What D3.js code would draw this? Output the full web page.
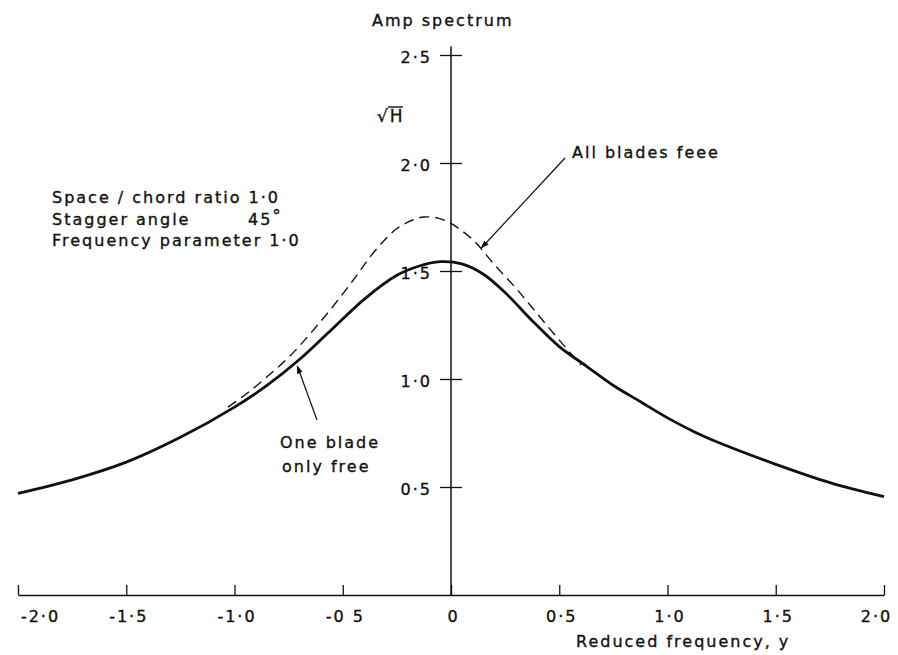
<!DOCTYPE html>
<html>
<head>
<meta charset="utf-8">
<script src="https://cdn.jsdelivr.net/npm/d3@7"></script>
<style>
    body { margin: 0; background: #fff; }
    svg { display: block; }
    text { font-family: "DejaVu Sans", sans-serif; fill: #111; stroke: #111; stroke-width: 0.35px; }
</style>
</head>
<body>
<svg width="898" height="655"></svg>
<script>
// values
var freq = [-2.0, -1.75, -1.5, -1.25, -1.0, -0.85, -0.7, -0.55, -0.4, -0.25, -0.15, -0.05, 0.05, 0.15, 0.25, 0.375, 0.5, 0.625, 0.75, 0.875, 1.0, 1.125, 1.25, 1.5, 1.75, 2.0];
var oneBladeFree = [0.47, 0.533, 0.615, 0.73, 0.87, 0.97, 1.09, 1.23, 1.37, 1.48, 1.522, 1.543, 1.533, 1.485, 1.40, 1.27, 1.15, 1.06, 0.97, 0.895, 0.82, 0.755, 0.70, 0.605, 0.52, 0.455];

var freqAll = [-1.03, -0.94, -0.85, -0.75, -0.65, -0.55, -0.45, -0.37, -0.3, -0.245, -0.18, -0.125, -0.06, 0, 0.1, 0.2, 0.3, 0.4, 0.5, 0.6];
var allBladesFree = [0.87, 0.935, 1.01, 1.10, 1.21, 1.33, 1.46, 1.57, 1.65, 1.70, 1.735, 1.75, 1.745, 1.72, 1.645, 1.53, 1.42, 1.30, 1.18, 1.065];

var xTicks = [-2.0, -1.5, -1.0, -0.5, 0, 0.5, 1.0, 1.5, 2.0];
var xTickLabels = ['-2·0', '-1·5', '-1·0', '-0 5', '0', '0·5', '1·0', '1·5', '2·0'];
var yTicks = [0.5, 1.0, 1.5, 2.0, 2.5];
var yTickLabels = ['0·5', '1·0', '1·5', '2·0', '2·5'];

var svg = d3.select('svg');

var x = d3.scaleLinear().domain([-2, 2]).range([18, 884]);
var y = d3.scaleLinear().domain([0, 2.5]).range([595, 55]);

var defs = svg.append('defs');
defs.append('marker')
    .attr('id', 'head')
    .attr('viewBox', '0 0 10 10')
    .attr('refX', 9).attr('refY', 5)
    .attr('markerWidth', 7).attr('markerHeight', 7)
    .attr('orient', 'auto')
    .append('path')
    .attr('d', 'M0,1.5 L10,5 L0,8.5 Z')
    .style('fill', '#111');

// x axis, ticks pointing up
var xAxis = svg.append('g')
    .attr('transform', 'translate(0,' + y(0) + ')')
    .call(d3.axisBottom(x)
        .tickValues(xTicks)
        .tickSizeInner(-10)
        .tickSizeOuter(0)
        .tickPadding(16)
        .tickFormat(function(d, i) { return xTickLabels[i]; }));
xAxis.select('.domain').style('stroke', '#111').style('stroke-width', 1.5);
xAxis.selectAll('.tick line').style('stroke', '#111').style('stroke-width', 1.3);
xAxis.selectAll('.tick text')
    .style('font-size', '16px')
    .style('letter-spacing', '2px')
    .attr('dx', function(d) { return d === -2 ? 22 : (d === 2 ? -8 : 2); });

// y axis sits on zero frequency, ticks cross the line
var yAxis = svg.append('g')
    .attr('transform', 'translate(' + x(0) + ',0)')
    .call(d3.axisLeft(y)
        .tickValues(yTicks)
        .tickSizeInner(11)
        .tickSizeOuter(0)
        .tickPadding(8)
        .tickFormat(function(d, i) { return yTickLabels[i]; }));
yAxis.select('.domain').remove();
yAxis.selectAll('.tick line').attr('x2', 11).attr('x1', -11)
    .style('stroke', '#111').style('stroke-width', 1.3);
yAxis.selectAll('.tick text')
    .style('font-size', '16px')
    .style('letter-spacing', '2px')
    .attr('dy', '0.45em');
yAxis.append('line')
    .attr('y1', y(0)).attr('y2', y(2.54))
    .style('stroke', '#111').style('stroke-width', 1.5);

var line = d3.line()
    .x(function(d) { return x(d[0]); })
    .y(function(d) { return y(d[1]); })
    .curve(d3.curveCatmullRom.alpha(0.5));

svg.append('path')
    .datum(d3.zip(freqAll, allBladesFree))
    .attr('d', line)
    .style('fill', 'none')
    .style('stroke', '#111')
    .style('stroke-width', 1.4)
    .style('stroke-dasharray', '10,6');

svg.append('path')
    .datum(d3.zip(freq, oneBladeFree))
    .attr('d', line)
    .style('fill', 'none')
    .style('stroke', '#111')
    .style('stroke-width', 2.8);

// labels
function label(txt, px, py, size) {
    return svg.append('text')
        .attr('x', px).attr('y', py)
        .style('font-size', (size || 16) + 'px')
        .style('letter-spacing', '2px')
        .text(txt);
}

label('Amp spectrum', 372, 26);
label('√H', 377, 122, 17);
svg.append('line')
    .attr('x1', 388).attr('x2', 403).attr('y1', 107).attr('y2', 107)
    .style('stroke', '#111').style('stroke-width', 1.4);

label('Space / chord ratio 1·0', 52, 203);
label('Stagger angle', 52, 225);
var deg = label('45', 248, 225);
deg.append('tspan').attr('dy', -3).style('font-size', '17px').text('°');
label('Frequency parameter 1·0', 52, 246);

label('All blades feee', 572, 158);
svg.append('line')
    .attr('x1', 565).attr('y1', 158)
    .attr('x2', x(0.14)).attr('y2', 248)
    .style('stroke', '#111').style('stroke-width', 1.2)
    .attr('marker-end', 'url(#head)');

label('One blade', 280, 448);
label('only free', 282, 472);
svg.append('line')
    .attr('x1', 317).attr('y1', 420)
    .attr('x2', x(-0.71)).attr('y2', 366)
    .style('stroke', '#111').style('stroke-width', 1.2)
    .attr('marker-end', 'url(#head)');

label('Reduced frequency, y', 576, 647);
</script>
</body>
</html>
